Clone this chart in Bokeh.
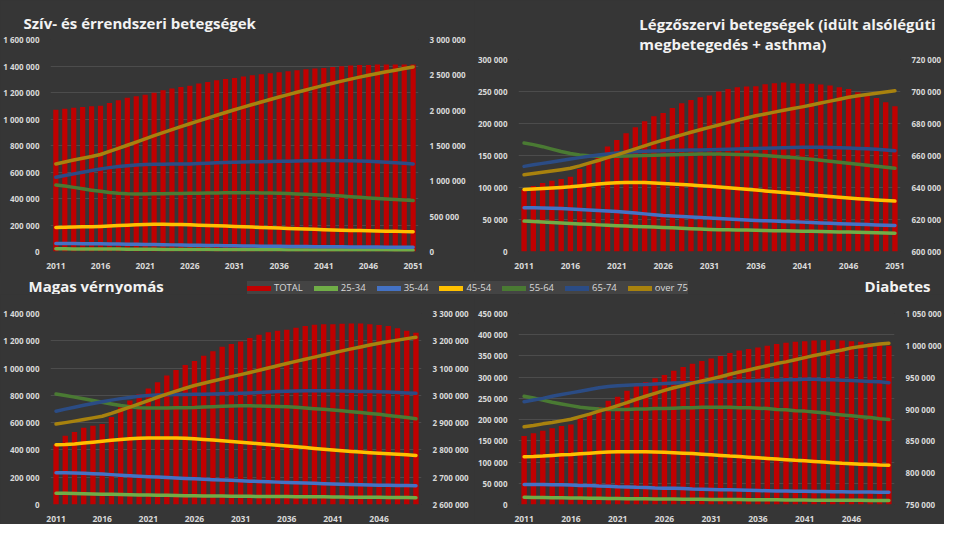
from bokeh.plotting import figure
from bokeh.models import (ColumnDataSource, Range1d, LinearAxis, FixedTicker,
                          CustomJSTickFormatter, Legend, LegendItem, Label)
from bokeh.layouts import column, row
from bokeh.embed import file_html
from bokeh.resources import INLINE

# ---------------- data (thousands of people) ----------------
YEARS_TOP = list(range(2011, 2052))   # 41 years
YEARS_BOT = list(range(2011, 2051))   # 40 years
SERIES = ["25-34", "35-44", "45-54", "55-64", "65-74", "over 75"]
COLORS = ["#70AD47", "#4472C4", "#FFC000", "#4A7A33", "#2B4C85", "#A8820E"]
TOTAL_COLOR = "#C00000"

# Szív- és érrendszeri betegségek
heart_total = [2006, 2021, 2035, 2044, 2054, 2063, 2101, 2139, 2177, 2196,
               2219, 2248, 2281, 2305, 2328, 2347, 2376, 2399, 2423, 2442,
               2456, 2475, 2494, 2508, 2522, 2536, 2551, 2565, 2579, 2588,
               2598, 2612, 2621, 2631, 2640, 2640, 2645, 2645, 2645, 2645, 2645]
heart_25_34 = [20, 20, 19.5, 19, 19, 18.5, 18, 18, 17.5, 17, 17,
               16.5, 16, 16, 15.5, 15, 15, 14.5, 14, 14, 14,
               13.5, 13, 13, 12.5, 12.5, 12, 12, 12, 11.5, 11.5,
               11, 11, 11, 11, 10.5, 10.5, 10.5, 10, 10, 10]
heart_35_44 = [61, 61, 60, 59, 59, 58, 57, 56, 55, 54, 53,
               52, 51, 50, 49, 48, 47, 46, 45, 44, 43,
               42, 41, 40, 40, 39, 38, 37, 37, 36, 35,
               35, 35, 34, 34, 34, 34, 33, 33, 33, 33]
heart_45_54 = [182, 183, 184, 186, 187, 189, 192, 196, 199, 202, 204,
               205, 205, 204, 203, 202, 199, 197, 194, 192, 189,
               187, 184, 182, 179, 177, 174, 172, 169, 167, 164,
               162, 161, 159, 158, 156, 155, 153, 152, 150, 149]
heart_55_64 = [502, 494, 484, 473, 463, 454, 446, 440, 436, 434, 434,
               435, 436, 437, 438, 439, 440, 441, 442, 443, 444,
               444, 443, 442, 441, 439, 437, 434, 432, 429, 427,
               422, 418, 413, 409, 404, 400, 396, 392, 388, 384]
heart_65_74 = [560, 573, 586, 598, 611, 623, 633, 642, 648, 653, 656,
               658, 659, 660, 661, 661, 664, 666, 669, 671, 674,
               675, 677, 678, 680, 681, 682, 683, 684, 685, 686,
               686, 685, 684, 683, 681, 678, 674, 670, 666, 661]
heart_over75 = [661, 675, 690, 704, 717, 732, 755, 778, 802, 826, 850,
                874, 897, 920, 942, 964, 986, 1007, 1028, 1049, 1070,
                1090, 1109, 1128, 1147, 1166, 1184, 1202, 1219, 1237, 1254,
                1270, 1286, 1301, 1316, 1330, 1343, 1356, 1368, 1381, 1393]

# Légzőszervi betegségek
resp_total = [638.6, 640.9, 642.8, 644.2, 645.3, 646.7, 651.5, 654.7, 660.9, 665.7,
              669.7, 673.9, 677.6, 681.4, 684.5, 686.6, 689.7, 692.7, 694.7, 696.4,
              697.5, 700.0, 701.6, 702.7, 703.1, 703.3, 704.6, 705.2, 705.6, 705.2,
              704.8, 704.8, 704.3, 703.7, 702.7, 701.6, 699.5, 697.5, 696.0, 693.3, 690.8]
resp_25_34 = [47.5, 46.8, 46.0, 45.3, 44.5, 43.8, 43.1, 42.4, 41.6, 40.9, 40.2,
              39.7, 39.2, 38.6, 38.1, 37.6, 37.0, 36.3, 35.7, 35.0, 34.4,
              34.1, 33.9, 33.6, 33.4, 33.1, 32.9, 32.6, 32.3, 32.1, 31.8,
              31.5, 31.2, 30.9, 30.6, 30.3, 30.0, 29.6, 29.3, 29.0, 28.7]
resp_35_44 = [68.3, 68.3, 68.0, 67.6, 67.0, 66.3, 65.6, 64.9, 64.2, 63.4, 62.6,
              61.4, 60.1, 58.8, 57.5, 56.3, 55.5, 54.7, 53.8, 53.0, 52.2,
              51.4, 50.7, 50.0, 49.2, 48.5, 48.0, 47.5, 46.9, 46.4, 45.9,
              45.3, 44.7, 44.0, 43.4, 42.8, 42.4, 42.0, 41.5, 41.1, 40.7]
resp_45_54 = [97.0, 97.6, 98.3, 99.1, 100.0, 101.0, 102.4, 103.9, 105.3, 106.6, 107.5,
              107.9, 108.0, 107.8, 107.2, 106.4, 105.6, 104.7, 103.8, 102.9, 102.0,
              100.8, 99.6, 98.4, 97.2, 96.0, 94.7, 93.5, 92.2, 90.9, 89.7,
              88.4, 87.1, 85.9, 84.7, 83.5, 82.5, 81.5, 80.6, 79.7, 78.8]
resp_55_64 = [169.6, 167.0, 163.8, 160.0, 156.3, 153.0, 150.8, 149.5, 148.9, 148.6, 148.7,
              149.1, 149.6, 150.1, 150.5, 150.8, 151.2, 151.6, 152.0, 152.2, 152.3,
              152.2, 152.0, 151.6, 151.2, 150.8, 149.9, 148.9, 147.8, 146.7, 145.5,
              144.0, 142.5, 141.0, 139.5, 138.0, 136.4, 134.8, 133.2, 131.6, 130.0]
resp_65_74 = [133.0, 135.4, 137.7, 140.0, 142.3, 144.5, 146.7, 148.8, 150.8, 152.5, 154.0,
              155.0, 155.9, 156.6, 157.1, 157.5, 157.8, 158.1, 158.4, 158.7, 159.0,
              159.4, 159.8, 160.2, 160.6, 161.0, 161.4, 161.8, 162.2, 162.6, 162.8,
              162.8, 162.7, 162.5, 162.1, 161.7, 161.1, 160.4, 159.6, 158.6, 157.5]
resp_over75 = [120.0, 121.8, 123.7, 125.7, 127.8, 130.0, 133.8, 138.0, 142.2, 146.6, 151.0,
               155.7, 160.4, 165.0, 169.6, 174.0, 178.2, 182.3, 186.3, 190.2, 194.0,
               197.7, 201.4, 205.0, 208.5, 212.0, 214.9, 217.8, 220.6, 223.3, 226.0,
               229.0, 232.0, 235.0, 238.0, 241.0, 243.2, 245.3, 247.3, 249.2, 251.0]

# Magas vérnyomás
bp_total = [2820, 2852, 2866, 2881, 2889, 2895, 2921, 2956, 2981, 3004,
            3025, 3048, 3073, 3093, 3111, 3126, 3145, 3162, 3178, 3188,
            3197, 3210, 3222, 3231, 3237, 3240, 3248, 3254, 3259, 3261,
            3261, 3262, 3263, 3263, 3261, 3258, 3254, 3246, 3237, 3229]
bp_25_34 = [83, 82, 80, 79, 77, 76, 75, 73, 72, 70, 69,
            68, 67, 66, 65, 64, 63, 62, 62, 61, 60,
            60, 59, 59, 58, 58, 57, 57, 56, 56, 55,
            55, 54, 54, 53, 53, 52, 51, 51, 50]
bp_35_44 = [232, 232, 231, 229, 226, 223, 219, 215, 211, 207, 204,
            201, 198, 194, 191, 188, 185, 182, 180, 177, 174,
            171, 169, 166, 164, 161, 159, 157, 155, 153, 151,
            149, 147, 145, 143, 142, 141, 140, 139, 138]
bp_45_54 = [438, 440, 444, 450, 457, 464, 471, 477, 482, 485, 487,
            488, 488, 487, 485, 482, 477, 472, 467, 462, 457,
            451, 446, 440, 435, 429, 423, 417, 411, 405, 399,
            394, 389, 385, 380, 376, 372, 368, 364, 360]
bp_55_64 = [810, 799, 787, 775, 762, 750, 737, 725, 716, 710, 707,
            707, 708, 709, 710, 711, 714, 717, 720, 722, 723,
            723, 722, 720, 718, 716, 712, 707, 702, 698, 693,
            687, 680, 674, 667, 661, 653, 645, 637, 629]
bp_65_74 = [684, 699, 713, 727, 740, 753, 765, 776, 785, 793, 799,
            802, 804, 806, 807, 808, 809, 810, 812, 813, 815,
            818, 821, 824, 828, 831, 832, 833, 833, 833, 833,
            832, 831, 829, 828, 826, 824, 821, 818, 815]
bp_over75 = [590, 600, 611, 623, 635, 647, 668, 691, 714, 738, 762,
             786, 809, 831, 852, 872, 889, 905, 921, 937, 952,
             968, 984, 1001, 1017, 1033, 1049, 1065, 1080, 1096, 1111,
             1126, 1141, 1155, 1169, 1182, 1194, 1205, 1216, 1226]

# Diabetes
diab_total = [857.6, 862.0, 866.0, 869.9, 873.4, 875.8, 884.7, 890.6, 903.0, 912.8,
              919.2, 928.6, 936.5, 942.4, 948.3, 953.3, 960.2, 966.1, 971.0, 975.5,
              979.4, 983.4, 987.8, 991.8, 994.2, 996.7, 999.2, 1002.1, 1004.1, 1005.6,
              1006.6, 1007.6, 1008.1, 1008.1, 1007.6, 1006.6, 1005.6, 1003.7, 1001.6, 999.2]
diab_25_34 = [17, 16.7, 16.4, 16.1, 15.8, 15.5, 15.2, 14.9, 14.6, 14.3, 14,
              13.8, 13.6, 13.4, 13.2, 13, 12.8, 12.6, 12.4, 12.2, 12,
              11.8, 11.7, 11.5, 11.4, 11.2, 11, 10.9, 10.7, 10.6, 10.4,
              10.3, 10.2, 10.1, 10, 9.9, 9.8, 9.7, 9.7, 9.6]
diab_35_44 = [47, 47, 47, 46.5, 46.5, 46, 45, 44.5, 43.5, 43, 42,
              41.5, 40.5, 40, 39, 38.5, 38, 37.5, 36.5, 36, 35.5,
              35, 34.5, 34, 33.5, 33, 32.5, 32, 32, 31.5, 31,
              30.5, 30.5, 30, 30, 29.6, 29.5, 29.3, 29.1, 29]
diab_45_54 = [112.5, 113, 114, 115.5, 117, 118, 119.5, 121, 122.5, 123.5, 124,
              124.5, 124.5, 124, 123.5, 123, 122, 121, 120, 118.5, 117,
              115.5, 114, 113, 111.5, 110, 108.5, 107, 105.5, 104, 103,
              101.5, 100, 98.5, 97, 96, 95, 94, 93, 92.5]
diab_55_64 = [255, 251, 246, 241, 237, 233, 229, 227, 225, 224, 224,
              224, 225, 225, 226, 226, 227, 228, 228, 229, 229,
              229, 229, 228, 228, 227, 226, 224, 223, 221, 220,
              218, 216, 213, 211, 209, 207, 205, 202, 200]
diab_65_74 = [242, 246, 250, 255, 259, 263, 267, 271, 275, 278, 280,
              281, 282, 283, 284, 285, 286, 287, 287, 288, 289,
              290, 290, 291, 291, 292, 293, 293, 294, 294, 295,
              295, 294, 294, 293, 292, 291, 290, 289, 287]
diab_over75 = [183, 186, 190, 193, 197, 201, 207, 213, 220, 226, 233,
               240, 248, 255, 262, 269, 275, 280, 286, 291, 296,
               301, 307, 312, 317, 322, 327, 332, 336, 341, 346,
               351, 355, 360, 364, 369, 372, 375, 378, 380]

TICKS_TOP = [2011, 2016, 2021, 2026, 2031, 2036, 2041, 2046, 2051]
TICKS_BOT = [2011, 2016, 2021, 2026, 2031, 2036, 2041, 2046]

# ---------------- styling ----------------
BG = "#363636"
GRID = "#4c4c4c"
TXT = "#d9d9d9"
TITLE_C = "#f2f2f2"
FONT = "Open Sans"

FMT_CODE = r"""return Math.round(tick).toString().replace(/\B(?=(\d{3})+(?!\d))/g, " ");"""


def style_axis(ax):
    ax.axis_line_color = None
    ax.major_tick_line_color = None
    ax.minor_tick_line_color = None
    ax.major_label_text_color = TXT
    ax.major_label_text_font = FONT
    ax.major_label_text_font_size = "8px"
    ax.major_label_text_font_style = "bold"
    ax.major_label_standoff = 5


def panel(years, series, total, lmax, lstep, r0, r1, rstep, xr, ticks,
          w, h, bl, br, bt, bb, title=None, align="left", offset=0, standoff=10):
    p = figure(width=w, height=h, output_backend="svg", toolbar_location=None,
               x_range=Range1d(*xr), y_range=Range1d(0, lmax), title=title,
               min_border_left=bl, min_border_right=br,
               min_border_top=bt, min_border_bottom=bb,
               background_fill_color=BG, border_fill_color=BG,
               outline_line_color=None)
    p.frame_align = False
    p.extra_y_ranges = {"tot": Range1d(r0, r1)}
    src = ColumnDataSource(dict(year=years, total=[v * 1000 for v in total]))
    p.vbar(x="year", top="total", bottom=r0, width=0.58, source=src,
           y_range_name="tot", fill_color=TOTAL_COLOR, line_color=None)
    for vals, color in zip(series, COLORS):
        p.line(years, [v * 1000 for v in vals], line_color=color,
               line_width=3.5, line_join="round", line_cap="round")
    left = p.yaxis[0]
    left.ticker = FixedTicker(ticks=list(range(0, lmax + 1, lstep)))
    left.formatter = CustomJSTickFormatter(code=FMT_CODE)
    right = LinearAxis(y_range_name="tot",
                       ticker=FixedTicker(ticks=list(range(r0, r1 + 1, rstep))),
                       formatter=CustomJSTickFormatter(code=FMT_CODE))
    p.add_layout(right, "right")
    p.xaxis.ticker = FixedTicker(ticks=ticks)
    for ax in [p.xaxis[0], left, right]:
        style_axis(ax)
    p.xaxis.major_label_text_font_size = "8.5px"
    p.xgrid.visible = False
    p.ygrid.grid_line_color = GRID
    p.ygrid.grid_line_width = 1
    if title is not None:
        p.title.text_color = TITLE_C
        p.title.text_font = FONT
        p.title.text_font_size = "15px"
        p.title.text_font_style = "bold"
        p.title.align = align
        p.title.offset = offset
        p.title.standoff = standoff
    return p


# panel sizes and borders (px)
W1, W2, H_TOP, H_BOT, H_MID = 474, 470, 272, 230, 22

p1 = panel(YEARS_TOP,
           [heart_25_34, heart_35_44, heart_45_54, heart_55_64, heart_65_74, heart_over75],
           heart_total, 1600000, 200000, 0, 3000000, 500000, (2010.4, 2051.6), TICKS_TOP,
           W1, H_TOP, 50, 56, 39, 21,
           title="Szív- és érrendszeri betegségek", align="left", offset=-27, standoff=14)

p2 = panel(YEARS_TOP,
           [resp_25_34, resp_35_44, resp_45_54, resp_55_64, resp_65_74, resp_over75],
           resp_total, 300000, 50000, 600000, 720000, 20000, (2010.4, 2051.6), TICKS_TOP,
           W2, H_TOP, 37, 39, 59, 21,
           title="Légzőszervi betegségek (idült alsólégúti\nmegbetegedés + asthma)",
           align="right", offset=-35, standoff=12)

p3 = panel(YEARS_BOT,
           [bp_25_34, bp_35_44, bp_45_54, bp_55_64, bp_65_74, bp_over75],
           bp_total, 1400000, 200000, 2600000, 3300000, 100000, (2010.4, 2050.6), TICKS_BOT,
           W1, H_BOT, 45, 53, 19, 16)
p4 = panel(YEARS_BOT,
           [diab_25_34, diab_35_44, diab_45_54, diab_55_64, diab_65_74, diab_over75],
           diab_total, 450000, 50000, 750000, 1050000, 50000, (2010.4, 2050.6), TICKS_BOT,
           W2, H_BOT, 38, 41, 19, 16)

# middle strip with the shared legend and the titles of the lower panels
s = figure(width=W1 + W2, height=H_MID, output_backend="svg", toolbar_location=None,
           x_range=Range1d(0, W1 + W2), y_range=Range1d(0, H_MID), title=None,
           x_axis_type=None, y_axis_type=None, min_border=0,
           background_fill_color=BG, border_fill_color=BG, outline_line_color=None)
items = []
for name, color in zip(["TOTAL"] + SERIES, [TOTAL_COLOR] + COLORS):
    r = s.line(x=[-50, -40], y=[-50, -50], line_color=color, line_width=5, line_cap="round")
    items.append(LegendItem(label=name, renderers=[r]))
leg = Legend(items=items, orientation="horizontal", location=(247, 0),
             glyph_width=24, glyph_height=12, label_height=12, label_standoff=3,
             spacing=11, padding=5, margin=0,
             label_text_font=FONT, label_text_font_size="9.5px", label_text_color=TXT,
             background_fill_color="#444444", background_fill_alpha=1,
             border_line_color=None)
s.add_layout(leg)
for txt, x, al in [("Magas vérnyomás", 28, "left"), ("Diabetes", 930, "right")]:
    s.add_layout(Label(x=x, y=9, text=txt, text_font=FONT, text_font_size="15px",
                       text_font_style="bold", text_color=TITLE_C,
                       text_baseline="middle", text_align=al))

layout = column(row(p1, p2, styles={"background-color": BG}), s,
                row(p3, p4, styles={"background-color": BG}),
                styles={"background-color": BG})
open("out.html", "w").write(file_html(layout, INLINE))
